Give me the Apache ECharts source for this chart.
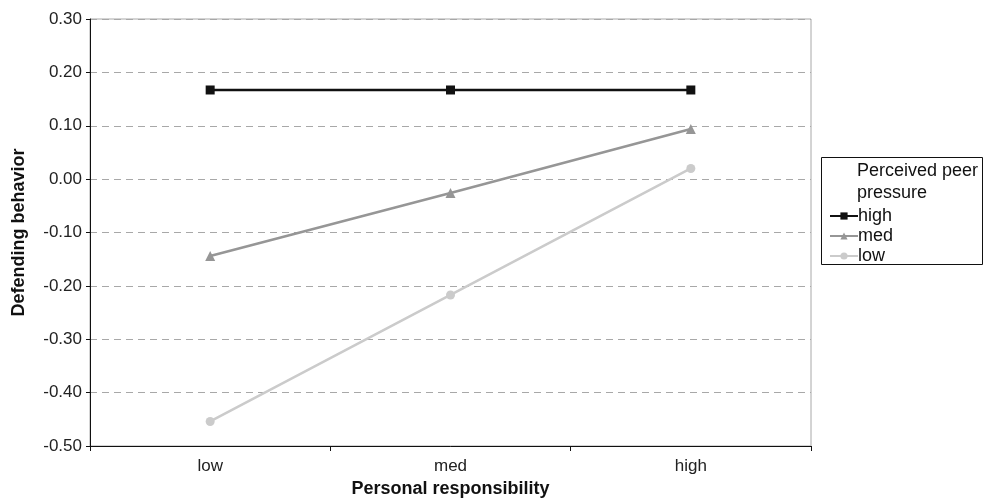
<!DOCTYPE html>
<html>
<head>
<meta charset="utf-8">
<script src="https://cdn.jsdelivr.net/npm/echarts@6/dist/echarts.min.js"></script>
<style>
  html, body { margin: 0; padding: 0; background: #fff; }
  #chart { width: 992px; height: 503px; }
</style>
</head>
<body>
<div id="chart"></div>
<script>
// Personal responsibility levels on the x axis
const categories = ['low', 'med', 'high'];
// Defending behavior by perceived peer pressure
const highPressure = [0.167, 0.167, 0.167];
const medPressure = [-0.144, -0.026, 0.094];
const lowPressure = [-0.454, -0.217, 0.020];
const seriesNames = ['high', 'med', 'low'];

const FONT = '"Liberation Sans", Arial, sans-serif';

const chart = echarts.init(document.getElementById('chart'), null, { renderer: 'canvas' });

chart.setOption({
  animation: false,
  backgroundColor: '#ffffff',
  textStyle: { fontFamily: FONT },
  grid: {
    left: 90, top: 19, right: 181, bottom: 57,
    outerBoundsMode: 'none',
    containLabel: false,
    show: true, borderColor: '#a8a8a8', borderWidth: 1
  },
  xAxis: {
    type: 'category',
    data: categories,
    boundaryGap: true,
    name: 'Personal responsibility',
    nameLocation: 'middle',
    nameGap: 34,
    nameTextStyle: { fontFamily: FONT, fontWeight: 'bold', fontSize: 18, color: '#111' },
    axisLine: { onZero: false, lineStyle: { color: '#111', width: 1 } },
    axisTick: { show: true, length: 5, lineStyle: { color: '#111' } },
    axisLabel: { fontFamily: FONT, fontSize: 17, color: '#222', margin: 12 },
    splitLine: { show: false }
  },
  yAxis: {
    type: 'value',
    min: -0.5, max: 0.3, interval: 0.1,
    name: 'Defending behavior',
    nameLocation: 'middle',
    nameGap: 62,
    nameRotate: 90,
    nameTextStyle: { fontFamily: FONT, fontWeight: 'bold', fontSize: 18, color: '#111' },
    axisLine: { show: true, onZero: false, lineStyle: { color: '#111', width: 1 } },
    axisTick: { show: true, length: 4, lineStyle: { color: '#111' } },
    axisLabel: {
      fontFamily: FONT, fontSize: 17, color: '#222', margin: 8,
      formatter: v => v.toFixed(2)
    },
    splitLine: { show: true, lineStyle: { color: '#a8a8a8', type: [7, 5], width: 1 } }
  },
  legend: {
    orient: 'vertical',
    left: 824, top: 202,
    itemWidth: 28, itemHeight: 9, itemGap: 2,
    data: seriesNames,
    textStyle: { fontFamily: FONT, fontSize: 18, color: '#111', lineHeight: 18, padding: [0, 0, 0, -5] },
    selectedMode: false
  },
  graphic: [
    {
      type: 'rect',
      shape: { x: 821.5, y: 157.5, width: 161, height: 107 },
      style: { fill: 'none', stroke: '#111', lineWidth: 1 },
      z: 1
    },
    {
      type: 'text',
      left: 857, top: 160,
      style: {
        text: 'Perceived peer\npressure',
        font: '18px "Liberation Sans", Arial, sans-serif',
        fill: '#111',
        lineHeight: 22
      }
    }
  ],
  series: [
    {
      name: 'high', type: 'line', data: highPressure,
      symbol: 'rect', symbolSize: 9,
      lineStyle: { color: '#111', width: 2.5 },
      itemStyle: { color: '#111' }, z: 4
    },
    {
      name: 'med', type: 'line', data: medPressure,
      symbol: 'triangle', symbolSize: 10,
      lineStyle: { color: '#969696', width: 2.5 },
      itemStyle: { color: '#969696' }, z: 3
    },
    {
      name: 'low', type: 'line', data: lowPressure,
      symbol: 'circle', symbolSize: 9,
      lineStyle: { color: '#cbcbcb', width: 2.5 },
      itemStyle: { color: '#cbcbcb' }, z: 2
    }
  ]
});
</script>
</body>
</html>
